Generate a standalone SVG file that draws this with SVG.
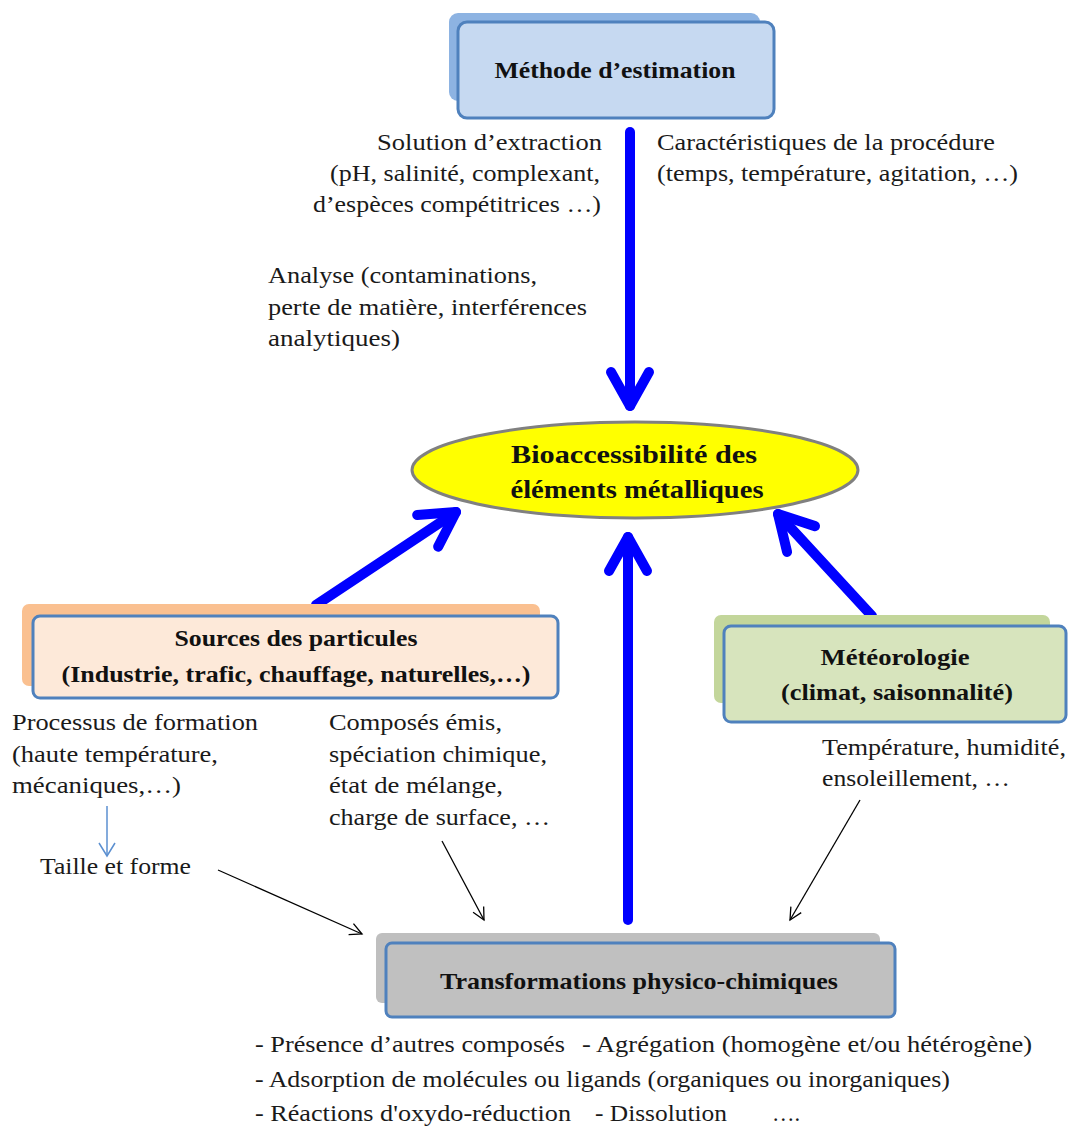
<svg xmlns="http://www.w3.org/2000/svg" width="1070" height="1126" viewBox="0 0 1070 1126">
<defs>
<marker id="bigHead" markerUnits="userSpaceOnUse" viewBox="-45 -25 55 50" refX="0" refY="0" markerWidth="55" markerHeight="50" orient="auto" overflow="visible">
<path d="M -34 -19 L 0 0 L -34 19" fill="none" stroke="#0000ff" stroke-width="10" stroke-linecap="round" stroke-linejoin="round"/>
</marker>
<marker id="thinHead" markerUnits="userSpaceOnUse" viewBox="-14 -8 16 16" refX="0" refY="0" markerWidth="16" markerHeight="16" orient="auto" overflow="visible">
<path d="M -12 -6 L 0 0 L -12 6" fill="none" stroke="#000" stroke-width="1.3"/>
</marker>
<marker id="blueHead" markerUnits="userSpaceOnUse" viewBox="-14 -8 16 16" refX="0" refY="0" markerWidth="16" markerHeight="16" orient="auto" overflow="visible">
<path d="M -13 -8 L 0 0 L -13 8" fill="none" stroke="#5b8fd0" stroke-width="1.5"/>
</marker>
</defs>
<style>
.t{font-family:"Liberation Serif","Times New Roman",serif;font-size:22.5px;fill:#1a1a1a;}
.b{font-family:"Liberation Serif","Times New Roman",serif;font-size:23px;font-weight:bold;fill:#111;text-anchor:middle;}
.bb{font-size:26px;}
.front{stroke:#4f81bd;stroke-width:3;}
.big{stroke:#0000ff;stroke-width:10;stroke-linecap:round;fill:none;}
.thin{stroke:#000;stroke-width:1.3;fill:none;}
</style>
<rect width="1070" height="1126" fill="#fff"/>

<g id="connectors">
<line class="big" x1="630" y1="132" x2="630" y2="406" marker-end="url(#bigHead)"/>
<line class="big" x1="628" y1="920" x2="628" y2="537" marker-end="url(#bigHead)"/>
<line class="big" x1="316" y1="605" x2="456" y2="512" marker-end="url(#bigHead)"/>
<line class="big" x1="872" y1="616" x2="778" y2="514" marker-end="url(#bigHead)"/>
<line x1="107" y1="806" x2="107" y2="856" stroke="#5b8fd0" stroke-width="1.5" marker-end="url(#blueHead)"/>
<line class="thin" x1="218" y1="870" x2="362" y2="934" marker-end="url(#thinHead)"/>
<line class="thin" x1="442" y1="841" x2="484" y2="920" marker-end="url(#thinHead)"/>
<line class="thin" x1="860" y1="800" x2="790" y2="920" marker-end="url(#thinHead)"/>
</g>

<g id="methode">
<rect x="449" y="13" width="311" height="88" rx="9" fill="#8db3e2"/>
<rect class="front" x="458" y="22" width="316" height="96" rx="9" fill="#c6d9f1"/>
<text class="b" x="615" y="78" textLength="241" lengthAdjust="spacingAndGlyphs">Méthode d’estimation</text>
</g>

<g id="bioaccessibilite">
<ellipse cx="635" cy="470" rx="223" ry="48" fill="#ffff00" stroke="#808080" stroke-width="3"/>
<text class="b bb" x="634" y="463" textLength="246" lengthAdjust="spacingAndGlyphs">Bioaccessibilité des</text>
<text class="b bb" x="637" y="498" textLength="253" lengthAdjust="spacingAndGlyphs">éléments métalliques</text>
</g>

<g id="sources">
<rect x="22" y="604" width="518" height="82" rx="7" fill="#fac090"/>
<rect class="front" x="33" y="616" width="525" height="82" rx="7" fill="#fde9d9"/>
<text class="b" x="296" y="646" textLength="243" lengthAdjust="spacingAndGlyphs">Sources des particules</text>
<text class="b" x="296" y="682" textLength="469" lengthAdjust="spacingAndGlyphs">(Industrie, trafic, chauffage, naturelles,…)</text>
</g>

<g id="meteorologie">
<rect x="714" y="615" width="336" height="88" rx="7" fill="#c3d69b"/>
<rect class="front" x="724" y="626" width="342" height="96" rx="7" fill="#d7e4bd"/>
<text class="b" x="895" y="665" textLength="149" lengthAdjust="spacingAndGlyphs">Météorologie</text>
<text class="b" x="897" y="700" textLength="232" lengthAdjust="spacingAndGlyphs">(climat, saisonnalité)</text>
</g>

<g id="transformations">
<rect x="376" y="933" width="504" height="70" rx="6" fill="#bfbfbf"/>
<rect class="front" x="386" y="943" width="509" height="74" rx="6" fill="#c0c0c0"/>
<text class="b" x="639" y="989" textLength="398" lengthAdjust="spacingAndGlyphs">Transformations physico-chimiques</text>
</g>

<g id="labels">
<text class="t" x="602" y="150" text-anchor="end" textLength="225" lengthAdjust="spacingAndGlyphs">Solution d’extraction</text>
<text class="t" x="600" y="181" text-anchor="end" textLength="270" lengthAdjust="spacingAndGlyphs">(pH, salinité, complexant,</text>
<text class="t" x="601" y="212" text-anchor="end" textLength="288" lengthAdjust="spacingAndGlyphs">d’espèces compétitrices …)</text>
<text class="t" x="657" y="150" textLength="338" lengthAdjust="spacingAndGlyphs">Caractéristiques de la procédure</text>
<text class="t" x="657" y="181" textLength="361" lengthAdjust="spacingAndGlyphs">(temps, température, agitation, …)</text>
<text class="t" x="268" y="283" textLength="269" lengthAdjust="spacingAndGlyphs">Analyse (contaminations,</text>
<text class="t" x="268" y="315" textLength="319" lengthAdjust="spacingAndGlyphs">perte de matière, interférences</text>
<text class="t" x="268" y="346" textLength="132" lengthAdjust="spacingAndGlyphs">analytiques)</text>
<text class="t" x="12" y="730" textLength="246" lengthAdjust="spacingAndGlyphs">Processus de formation</text>
<text class="t" x="12" y="762" textLength="206" lengthAdjust="spacingAndGlyphs">(haute température,</text>
<text class="t" x="12" y="793" textLength="169" lengthAdjust="spacingAndGlyphs">mécaniques,…)</text>
<text class="t" x="40" y="874" textLength="151" lengthAdjust="spacingAndGlyphs">Taille et forme</text>
<text class="t" x="329" y="730" textLength="173" lengthAdjust="spacingAndGlyphs">Composés émis,</text>
<text class="t" x="329" y="762" textLength="218" lengthAdjust="spacingAndGlyphs">spéciation chimique,</text>
<text class="t" x="329" y="793" textLength="174" lengthAdjust="spacingAndGlyphs">état de mélange,</text>
<text class="t" x="329" y="825" textLength="221" lengthAdjust="spacingAndGlyphs">charge de surface, …</text>
<text class="t" x="822" y="755" textLength="244" lengthAdjust="spacingAndGlyphs">Température, humidité,</text>
<text class="t" x="822" y="786" textLength="188" lengthAdjust="spacingAndGlyphs">ensoleillement, …</text>
<text class="t" x="255" y="1052" textLength="310" lengthAdjust="spacingAndGlyphs">- Présence d’autres composés</text>
<text class="t" x="582" y="1052" textLength="450" lengthAdjust="spacingAndGlyphs">- Agrégation (homogène et/ou hétérogène)</text>
<text class="t" x="255" y="1087" textLength="695" lengthAdjust="spacingAndGlyphs">- Adsorption de molécules ou ligands (organiques ou inorganiques)</text>
<text class="t" x="255" y="1121" textLength="316" lengthAdjust="spacingAndGlyphs">- Réactions d'oxydo-réduction</text>
<text class="t" x="595" y="1121" textLength="132" lengthAdjust="spacingAndGlyphs">- Dissolution</text>
<text class="t" x="772" y="1121">….</text>
</g>
</svg>
